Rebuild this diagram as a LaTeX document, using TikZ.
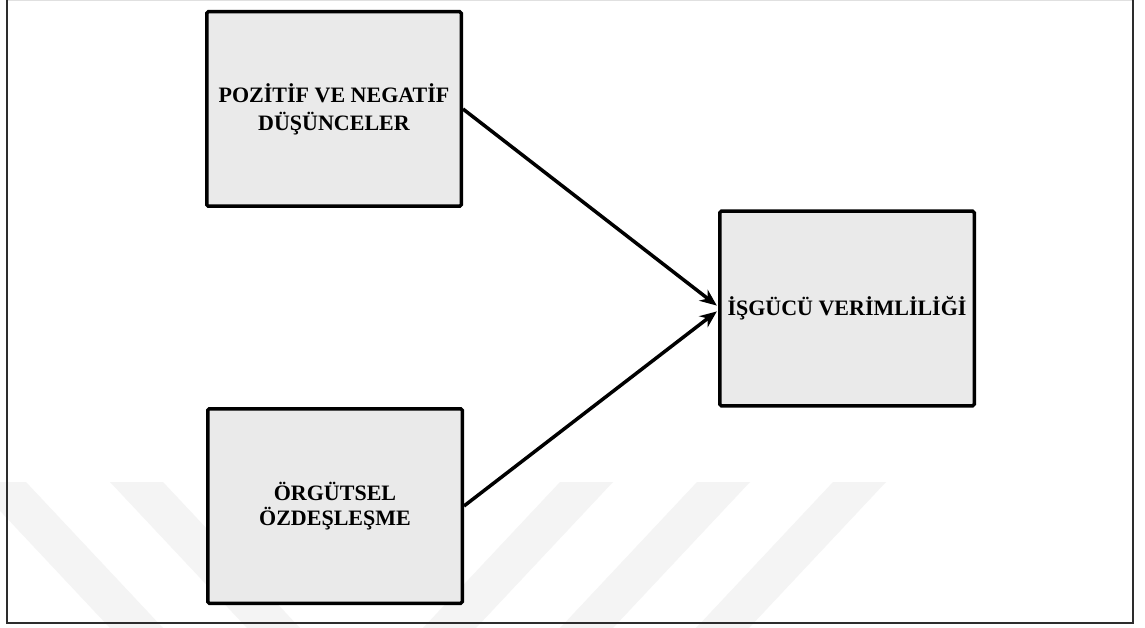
\documentclass[tikz,border=0pt]{standalone}
\usepackage{fontspec}
\setmainfont{Liberation Serif}
\usetikzlibrary{arrows.meta}
\definecolor{boxfill}{RGB}{234,234,234}
\definecolor{wm}{RGB}{244,244,244}
\definecolor{framecol}{RGB}{45,45,45}
\tikzset{
  box/.style={draw=black, line width=3.5pt, fill=boxfill, rounded corners=1.5pt,
    minimum width=254.5pt, minimum height=194.5pt, inner sep=0pt, align=center},
  boxtext/.style={font=\fontsize{22}{#1}\selectfont\bfseries},
  link/.style={line width=3.5pt, shorten >=1.5pt, -{Stealth[length=17pt,width=14pt]}},
  wmark/.style={fill=wm, draw=none},
  frame/.style={draw=framecol, line width=2pt}
}
\begin{document}
\begin{tikzpicture}[x=1pt,y=-1pt]
\useasboundingbox (0,0) rectangle (1145,628);
\fill[white] (0,0) rectangle (1145,628);
% faint watermark stripes
\foreach \a in {-27,110}
  \fill[wmark] (\a,482) -- (\a+53,482) -- (\a+190,628) -- (\a+137,628) -- cycle;
\foreach \a in {560,697,833}
  \fill[wmark] (\a,482) -- (\a+53,482) -- (\a-84,628) -- (\a-137,628) -- cycle;
% outer frame (top edge falls at the picture's border)
\draw[black!12, line width=1pt] (7,0.5) -- (1133,0.5);
\draw[frame] (7,-5) -- (7,623) -- (1133,623) -- (1133,-5);
% boxes
\node[box, boxtext=28] (a) at (334,109) {POZİTİF VE NEGATİF\\DÜŞÜNCELER};
\node[box, boxtext=25] (b) at (335,506) {ÖRGÜTSEL\\ÖZDEŞLEŞME};
\node[box, boxtext=26] (c) at (847,308.5) {İŞGÜCÜ VERİMLİLİĞİ};
% connectors
\draw[link] (a.east) -- ([yshift=2pt]c.west);
\draw[link] (b.east) -- ([yshift=-2pt]c.west);
\end{tikzpicture}
\end{document}
